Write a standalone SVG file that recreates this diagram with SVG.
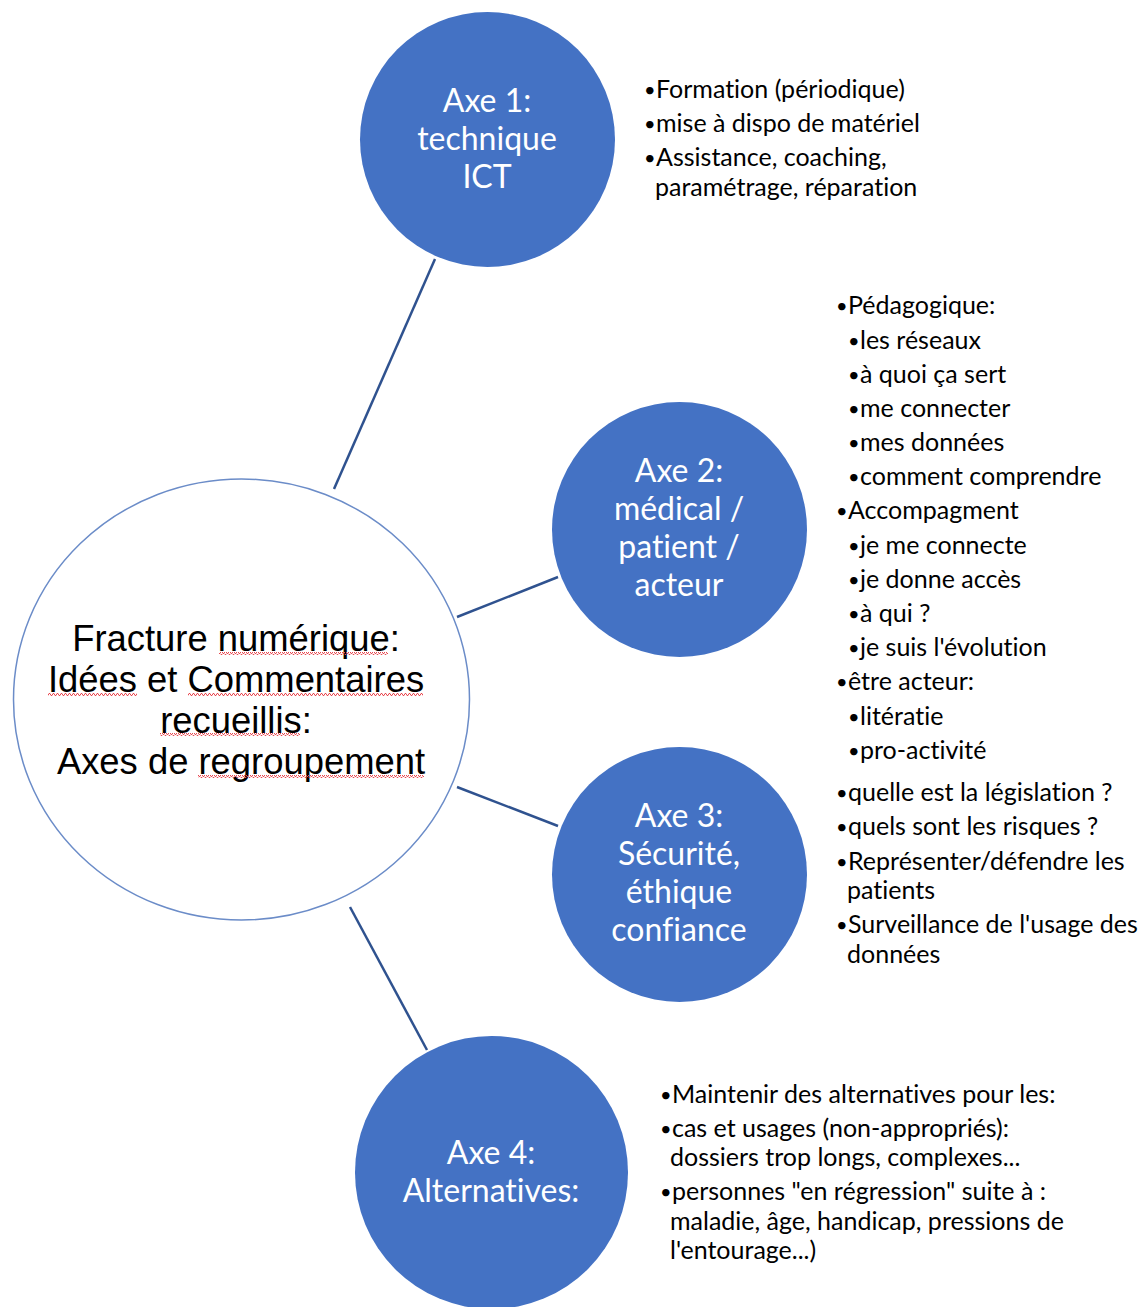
<svg xmlns="http://www.w3.org/2000/svg" width="1139" height="1307" viewBox="0 0 1139 1307">
<defs>
<pattern id="wave" x="0" y="0" width="4" height="3" patternUnits="userSpaceOnUse">
<path d="M0,2.5 L1,0.5 L2,0.5 L3,2.5 L4,2.5" fill="none" stroke="#e8474f" stroke-width="1"/>
</pattern>
<style>
.axe{fill:#4472c4;}
.axt{font-family:Lato,"Open Sans",sans-serif;font-size:32px;fill:#ffffff;text-anchor:middle;font-variant-ligatures:none;}
.lst{font-family:Lato,"Open Sans",sans-serif;font-size:25px;fill:#000000;font-variant-ligatures:none;}
.lst text{font-size:20px;}
.lst tspan,.lst text.w{font-size:25px;}
.ctr{font-family:"Liberation Sans",Arial,sans-serif;font-size:36.4px;fill:#000000;text-anchor:middle;}
.conn{stroke:#2f528f;stroke-width:2.5;fill:none;}
.sq{fill:url(#wave);}
</style>
</defs>
<rect width="1139" height="1307" fill="#ffffff"/>
<g id="connectors">
<line class="conn" x1="435" y1="259" x2="334" y2="489"/>
<line class="conn" x1="558" y1="577" x2="457" y2="617"/>
<line class="conn" x1="558" y1="826" x2="457" y2="787"/>
<line class="conn" x1="350" y1="907" x2="427" y2="1050"/>
</g>
<g id="center">
<ellipse cx="241.5" cy="699.5" rx="228" ry="220.5" fill="#ffffff" stroke="#6b8cc8" stroke-width="1.5"/>
<text class="ctr" x="236" y="651">Fracture numérique:</text>
<text class="ctr" x="236" y="692">Idées et Commentaires</text>
<text class="ctr" x="236" y="733">recueillis:</text>
<text class="ctr" x="241" y="774">Axes de regroupement</text>
<rect class="sq" x="219" y="652" width="169" height="3"/>
<rect class="sq" x="48" y="693" width="89" height="3"/>
<rect class="sq" x="188" y="693" width="235" height="3"/>
<rect class="sq" x="160" y="733" width="140" height="3"/>
<rect class="sq" x="198" y="775" width="226" height="3"/>
</g>
<g id="axe1">
<circle class="axe" cx="487.5" cy="139.5" r="127.5"/>
<text class="axt" x="487" y="112">Axe 1:</text>
<text class="axt" x="487" y="150">technique</text>
<text class="axt" x="487" y="188">ICT</text>
</g>
<g id="axe2">
<circle class="axe" cx="679.5" cy="529.5" r="127.5"/>
<text class="axt" x="679" y="482">Axe 2:</text>
<text class="axt" x="679" y="520">médical /</text>
<text class="axt" x="679" y="558">patient /</text>
<text class="axt" x="679" y="596">acteur</text>
</g>
<g id="axe3">
<circle class="axe" cx="679.5" cy="874.5" r="127.5"/>
<text class="axt" x="679" y="827">Axe 3:</text>
<text class="axt" x="679" y="865">Sécurité,</text>
<text class="axt" x="679" y="903">éthique</text>
<text class="axt" x="679" y="941">confiance</text>
</g>
<g id="axe4">
<circle class="axe" cx="491.5" cy="1172.5" r="136.5"/>
<text class="axt" x="491" y="1164">Axe 4:</text>
<text class="axt" x="491" y="1202">Alternatives:</text>
</g>
<g id="list1" class="lst">
<text x="644" y="97">•<tspan x="656" y="98">Formation (périodique)</tspan></text>
<text x="644" y="131">•<tspan x="656" y="132">mise à dispo de matériel</tspan></text>
<text x="644" y="165">•<tspan x="656" y="166">Assistance, coaching,</tspan></text>
<text class="w" x="655" y="196">paramétrage, réparation</text>
</g>
<g id="list2" class="lst">
<text x="836" y="313">•<tspan x="848" y="314">Pédagogique:</tspan></text>
<text x="848" y="348">•<tspan x="860" y="349">les réseaux</tspan></text>
<text x="848" y="382">•<tspan x="860" y="383">à quoi ça sert</tspan></text>
<text x="848" y="416">•<tspan x="860" y="417">me connecter</tspan></text>
<text x="848" y="450">•<tspan x="860" y="451">mes données</tspan></text>
<text x="848" y="484">•<tspan x="860" y="485">comment comprendre</tspan></text>
<text x="836" y="518">•<tspan x="848" y="519">Accompagment</tspan></text>
<text x="848" y="553">•<tspan x="860" y="554">je me connecte</tspan></text>
<text x="848" y="587">•<tspan x="860" y="588">je donne accès</tspan></text>
<text x="848" y="621">•<tspan x="860" y="622">à qui ?</tspan></text>
<text x="848" y="655">•<tspan x="860" y="656">je suis l'évolution</tspan></text>
<text x="836" y="689">•<tspan x="848" y="690">être acteur:</tspan></text>
<text x="848" y="724">•<tspan x="860" y="725">litératie</tspan></text>
<text x="848" y="758">•<tspan x="860" y="759">pro-activité</tspan></text>
</g>
<g id="list3" class="lst">
<text x="836" y="800">•<tspan x="848" y="801">quelle est la législation ?</tspan></text>
<text x="836" y="834">•<tspan x="848" y="835">quels sont les risques ?</tspan></text>
<text x="836" y="869">•<tspan x="848" y="870">Représenter/défendre les</tspan></text>
<text class="w" x="847" y="899">patients</text>
<text x="836" y="932">•<tspan x="848" y="933">Surveillance de l'usage des</tspan></text>
<text class="w" x="847" y="963">données</text>
</g>
<g id="list4" class="lst">
<text x="660" y="1102">•<tspan x="672" y="1103">Maintenir des alternatives pour les:</tspan></text>
<text x="660" y="1136">•<tspan x="672" y="1137">cas et usages (non-appropriés):</tspan></text>
<text class="w" x="670" y="1166">dossiers trop longs, complexes...</text>
<text x="660" y="1199">•<tspan x="672" y="1200">personnes "en régression" suite à :</tspan></text>
<text class="w" x="670" y="1230">maladie, âge, handicap, pressions de</text>
<text class="w" x="670" y="1259">l'entourage...)</text>
</g>
</svg>
